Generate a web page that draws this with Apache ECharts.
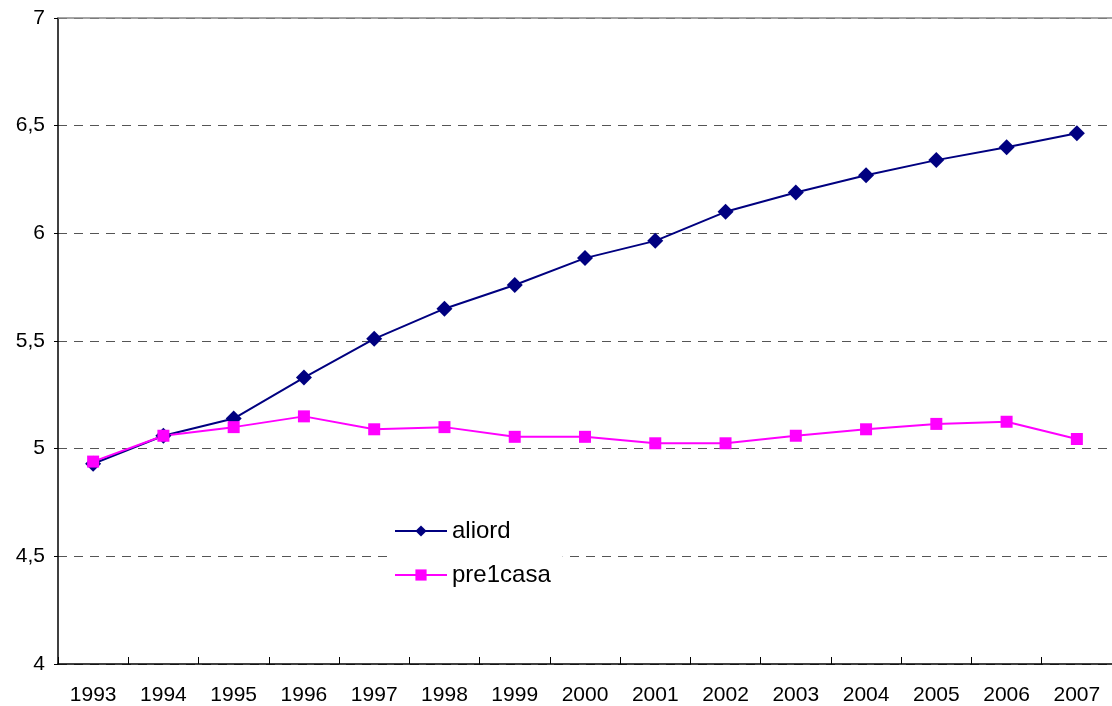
<!DOCTYPE html>
<html>
<head>
<meta charset="utf-8">
<script src="https://cdn.jsdelivr.net/npm/echarts@6/dist/echarts.min.js"></script>
<style>
  html, body { margin: 0; padding: 0; background: #fff; }
  #chart { width: 1112px; height: 706px; }
</style>
</head>
<body>
<div id="chart"></div>
<script>
const anni = ["1993", "1994", "1995", "1996", "1997", "1998", "1999", "2000",
  "2001", "2002", "2003", "2004", "2005", "2006", "2007"];
const aliord = [4.93, 5.06, 5.14, 5.33, 5.51, 5.65, 5.76, 5.885, 5.965, 6.1, 6.19, 6.27, 6.34, 6.4, 6.465];
const pre1casa = [4.94, 5.06, 5.1, 5.15, 5.09, 5.1, 5.055, 5.055, 5.025, 5.025, 5.06, 5.09, 5.115, 5.125, 5.045];

const myChart = echarts.init(document.getElementById("chart"));

const option = {
  animation: false,
  backgroundColor: "#fff",
  textStyle: { fontFamily: "Liberation Sans, Arial, sans-serif" },
  grid: { left: 58, top: 18, width: 1071, height: 646 },
  legend: {
    orient: "vertical",
    left: 388,
    top: 513,
    padding: [6, 12, 6, 6],
    backgroundColor: "#fff",
    itemWidth: 52,
    itemHeight: 14,
    itemGap: 20,
    textStyle: { fontSize: 24, color: "#000", fontFamily: "Liberation Sans, Arial, sans-serif" },
    data: ["aliord", "pre1casa"]
  },
  xAxis: [
    {
      type: "category",
      data: anni,
      boundaryGap: true,
      axisLine: { lineStyle: { color: "#000", width: 1.5 } },
      axisTick: { show: true, inside: true, length: 7, lineStyle: { color: "#000" } },
      axisLabel: { color: "#000", fontSize: 21, margin: 21 },
      splitLine: { show: false }
    },
    {
      // solid top border of the plot area
      type: "category",
      data: anni,
      position: "top",
      axisLine: { show: true, lineStyle: { color: "#888", width: 1.5 } },
      axisTick: { show: false },
      axisLabel: { show: false },
      splitLine: { show: false }
    }
  ],
  yAxis: {
    type: "value",
    min: 4,
    max: 7,
    interval: 0.5,
    axisLine: { show: true, lineStyle: { color: "#000", width: 1.5 } },
    axisTick: { show: true, length: 4, lineStyle: { color: "#000" } },
    axisLabel: {
      color: "#000",
      fontSize: 21,
      margin: 13,
      formatter: v => String(v).replace(".", ",")
    },
    splitLine: { show: true, lineStyle: { color: "#555", type: [9, 7], width: 1 } }
  },
  series: [
    {
      name: "aliord",
      type: "line",
      data: aliord,
      symbol: "diamond",
      symbolSize: 16,
      itemStyle: { color: "#000080" },
      lineStyle: { color: "#000080", width: 2 }
    },
    {
      name: "pre1casa",
      type: "line",
      data: pre1casa,
      symbol: "rect",
      symbolSize: 12,
      itemStyle: { color: "#ff00ff" },
      lineStyle: { color: "#ff00ff", width: 2 }
    }
  ]
};

myChart.setOption(option);
</script>
</body>
</html>
